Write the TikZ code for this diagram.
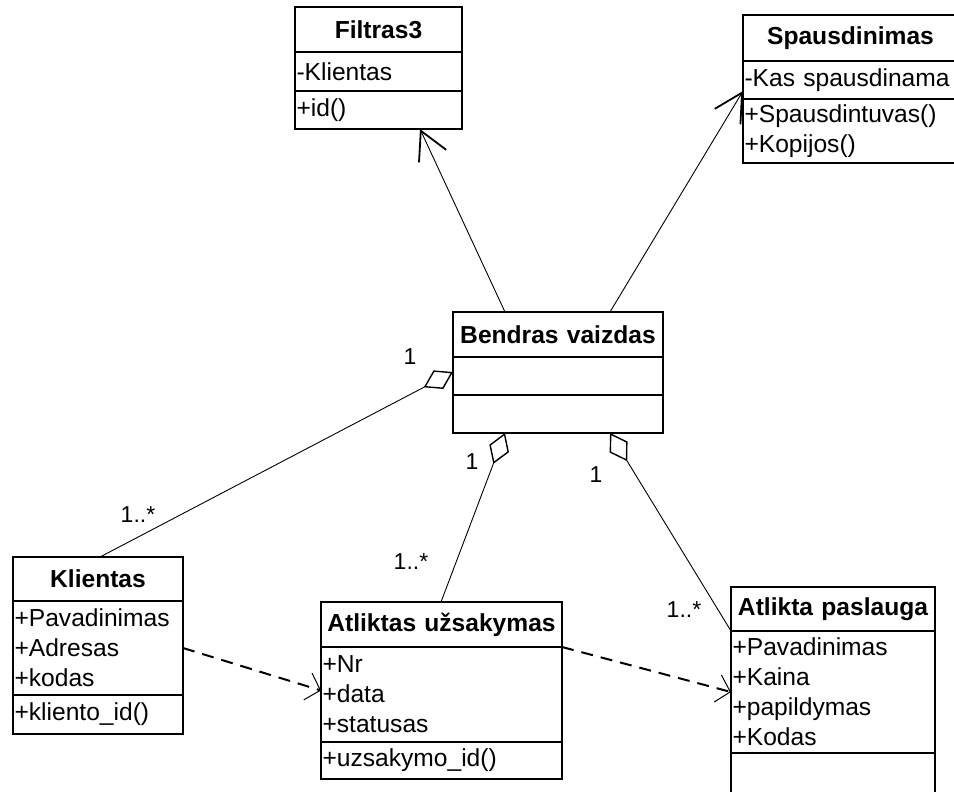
\documentclass[tikz,border=0pt]{standalone}
\usepackage{fontspec}
\setmainfont{Liberation Sans}
\usetikzlibrary{arrows.meta,calc}
\newcommand{\umlfont}{\fontsize{24.6}{30}\selectfont}
\begin{document}
\begin{tikzpicture}[x=1pt,y=-1pt,%
% common options for the class compartments:
head/.style = {draw, line width=1.5pt, anchor=north west, align=center,
            font=\umlfont\bfseries, inner sep=0, outer sep=0},
part/.style = {draw, line width=1.5pt, anchor=north west, align=left,
            font=\umlfont, inner xsep=1.5pt, inner ysep=0, outer sep=0},
% common options for the connectors:
gen/.style = {line width=0.9pt, -{Straight Barb[length=28pt,width=30pt,line width=1.8pt]}},
assoc/.style = {line width=0.9pt, {Diamond[open,length=33pt,width=21pt,line width=1.4pt]}-},
dep/.style = {line width=2pt, dash pattern=on 12pt off 8pt,
            -{Straight Barb[length=13pt,width=28pt,line width=1pt]}},
mult/.style = {inner sep=0, font=\fontsize{23}{26}\selectfont}]
\useasboundingbox (0,0) rectangle (954,792);
\clip (0,0) rectangle (954,792);
% Filtras3
\node[head, text width=167pt, minimum height=45pt] (filT) at (295,7) {Filtras3};
\node[part, text width=164pt, minimum height=39pt] (filA) at (295,52) {-Klientas};
\node[part, text width=164pt, minimum height=38pt] (filM) at (295,91) {+id()};
% Spausdinimas
\node[head, text width=215pt, minimum height=46pt] (spT) at (743,15) {Spausdinimas};
\node[part, text width=212pt, minimum height=38pt] (spA) at (743,61) {-Kas spausdinama};
\node[part, text width=212pt, minimum height=64pt] (spM) at (743,99) {+Spausdintuvas()\\+Kopijos()};
% Bendras vaizdas
\node[head, text width=210pt, minimum height=45pt] (bendT) at (453,312) {Bendras vaizdas};
\node[part, text width=207pt, minimum height=38pt] (bendA) at (453,357) {};
\node[part, text width=207pt, minimum height=38pt] (bendM) at (453,395) {};
% Klientas
\node[head, text width=170pt, minimum height=44pt] (klT) at (13,557) {Klientas};
\node[part, text width=167pt, minimum height=94pt] (klA) at (13,601) {+Pavadinimas\\+Adresas\\+kodas};
\node[part, text width=167pt, minimum height=39pt] (klM) at (13,695) {+kliento\_id()};
% Atliktas uzsakymas
\node[head, text width=241pt, minimum height=45pt] (auT) at (321,602) {Atliktas užsakymas};
\node[part, text width=238pt, minimum height=95pt] (auA) at (321,647) {+Nr\\+data\\+statusas};
\node[part, text width=238pt, minimum height=37pt] (auM) at (321,742) {+uzsakymo\_id()};
% Atlikta paslauga
\node[head, text width=204pt, minimum height=44pt] (apT) at (731,587) {Atlikta paslauga};
\node[part, text width=201pt, minimum height=122pt] (apA) at (731,631) {+Pavadinimas\\+Kaina\\+papildymas\\+Kodas};
\node[part, text width=201pt, minimum height=50pt] (apM) at (731,753) {};
% multiplicities
\node[mult] (mK1) at (410,357) {1};
\node[mult] (mK2) at (138,515) {1..*};
\node[mult] (mU1) at (472,462) {1};
\node[mult] (mU2) at (411,562) {1..*};
\node[mult] (mP1) at (596,475) {1};
\node[mult] (mP2) at (684,610) {1..*};
% connectors
\draw[gen] ($(bendT.north west)+(52,0)$) to ($(filM.south west)+(125,0)$);
\draw[gen] ($(bendT.north west)+(157,0)$) to ($(spA.south west)+(0,-8)$);
\draw[assoc] ($(bendA.west)+(0,-4)$) to ($(klT.north west)+(87,0)$);
\draw[assoc] ($(bendM.south west)+(52,0)$) to ($(auT.north west)+(120,0)$);
\draw[assoc] ($(bendM.south west)+(157,0)$) to (apT.south west);
\draw[dep] (klA.east) to ($(auA.west)+(0,-4)$);
\draw[dep] (auT.south east) to (apA.west);
\end{tikzpicture}
\end{document}
